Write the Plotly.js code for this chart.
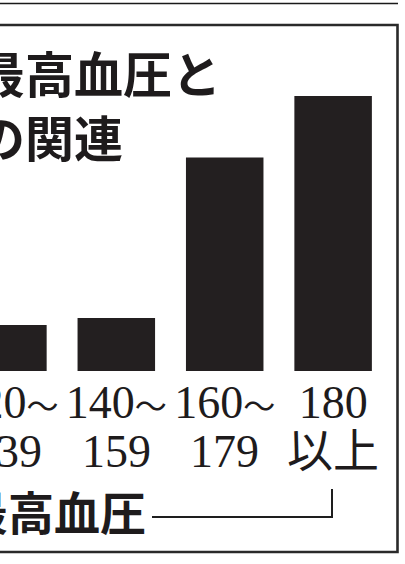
<!DOCTYPE html>
<html>
<head>
<meta charset="utf-8">
<script src="https://cdn.plot.ly/plotly-3.0.1.min.js"></script>
<style>html,body{margin:0;padding:0;background:#fff;}#chart{width:405px;height:564px;}</style>
</head>
<body>
<div id="chart"></div>
<script>
// ---- data ----
const categories = ['120～139', '140～159', '160～179', '180以上'];
const values = [1.0, 1.15, 4.64, 5.98];           // bar heights (relative)
const tickLine1 = ['120～', '140～', '160～', '180'];
const tickLine2 = ['139', '159', '179', '以上'];
const titleLines = ['最高血圧と', 'の関連'];
const axisTitleText = '最高血圧';

// ---- layout helpers ----
const W = 405, H = 564;
const px = x => x / W;
const py = y => 1 - y / H;
const xRange = [-0.0729, 3.663];
const serif = 'Liberation Serif, Noto Sans CJK JP, serif';
const gothic = 'Noto Sans CJK JP, sans-serif';
const ink = '#1e1b1c';

const fmtTick = t => t.replace('～', '<span style="font-size:32px">～</span>');

const trace = {
  type: 'bar',
  x: categories,
  y: values,
  marker: {color: '#231f20', line: {width: 0}},
  hoverinfo: 'skip'
};

const secondLine = tickLine2.map((t, i) => ({
  text: t, xref: 'x', yref: 'paper', x: categories[i], y: py(451),
  xanchor: 'center', yanchor: 'middle', showarrow: false,
  font: {family: serif, size: 46, color: ink}
}));

const layout = {
  width: W, height: H,
  margin: {l: 0, r: 0, t: 0, b: 0},
  paper_bgcolor: '#ffffff',
  plot_bgcolor: 'rgba(0,0,0,0)',
  showlegend: false,
  bargap: 0.285,
  xaxis: {
    type: 'category',
    range: xRange,
    tickmode: 'array',
    tickvals: categories,
    ticktext: tickLine1.map(fmtTick),
    tickfont: {family: serif, size: 46, color: ink},
    ticks: '', showline: false, showgrid: false, zeroline: false,
    ticklabelstandoff: 0,
    fixedrange: true
  },
  yaxis: {
    domain: [py(371), 1],
    range: [0, 371 / 46],
    visible: false,
    fixedrange: true
  },
  annotations: [
    {text: titleLines[0], xref: 'paper', yref: 'paper', x: px(-25), y: py(71),
     xanchor: 'left', yanchor: 'middle', showarrow: false, borderpad: 0,
     font: {family: gothic, size: 49, color: ink, weight: 'bold'}},
    {text: titleLines[1], xref: 'paper', yref: 'paper', x: px(-25), y: py(135),
     xanchor: 'left', yanchor: 'middle', showarrow: false, borderpad: 0,
     font: {family: gothic, size: 49, color: ink, weight: 'bold'}},
    {text: axisTitleText, xref: 'paper', yref: 'paper', x: px(-40), y: py(510),
     xanchor: 'left', yanchor: 'middle', showarrow: false,
     font: {family: gothic, size: 46, color: ink, weight: 'bold'}}
  ].concat(secondLine),
  shapes: [
    {type: 'line', xref: 'paper', yref: 'paper', x0: 0, x1: px(398), y0: py(3.5), y1: py(3.5),
     line: {color: '#1a1a1a', width: 1.3}},
    {type: 'rect', xref: 'paper', yref: 'paper', x0: px(-20), x1: px(397.5), y0: py(552), y1: py(25),
     line: {color: '#2a2a2a', width: 2.6}},
    {type: 'path', xref: 'paper', yref: 'paper',
     path: `M ${px(152)},${py(517)} L ${px(332)},${py(517)} L ${px(332)},${py(489)}`,
     line: {color: '#1e1e1e', width: 2}}
  ]
};

Plotly.newPlot('chart', [trace], layout, {displayModeBar: false, staticPlot: true});
</script>
</body>
</html>
